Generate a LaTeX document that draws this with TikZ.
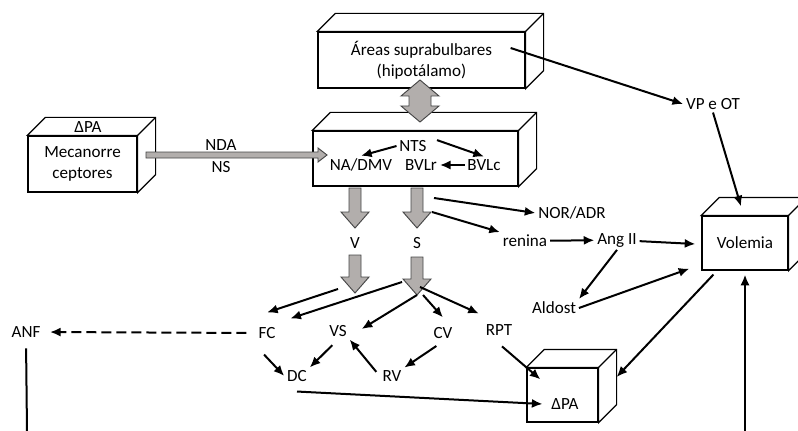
\documentclass[tikz,border=0pt]{standalone}
\usepackage{fontspec}
\setmainfont{Carlito}
\usetikzlibrary{arrows.meta, positioning, calc}
\definecolor{colSeta}{RGB}{178, 174, 172}
\definecolor{colBorda}{RGB}{70, 70, 70}

\begin{document}
\begin{tikzpicture}[x=0.75pt, y=-0.75pt,
    every node/.style={font=\fontsize{12.8}{15.5}\selectfont, inner sep=2pt},
    caixa/.style={draw, line width=0.9pt, fill=white, align=center},
    seta/.style={-{Latex[length=8pt,width=6.8pt]}, line width=1.5pt},
    setaGrossa/.style={fill=colSeta, draw=colBorda, line width=0.7pt, line join=miter}]
    \useasboundingbox (0,0) rectangle (798,431);

    % --- Caixas (face frontal) ---
    \node[caixa, minimum width=155.25pt, minimum height=42pt] (areas) at (421.5,60) {Áreas suprabulbares\\(hipotálamo)};
    \node[caixa, minimum width=153.75pt, minimum height=41.25pt] (nts) at (415.5,158.5) {};
    \node[caixa, minimum width=81.75pt, minimum height=42pt] (mec) at (82.5,164) {Mecanorre\\ceptores};
    \node[caixa, minimum width=64.5pt, minimum height=40.5pt] (vol) at (745,243) {Volemia};
    \node[caixa, minimum width=53.25pt, minimum height=40.5pt] (dpa) at (562.5,395) {};

    % Faces de cima e do lado (efeito 3D)
    \foreach \b in {areas, nts, mec, vol, dpa} {
        \draw[line width=0.9pt, fill=white] (\b.north west) -- ++(18,-18) -- ($(\b.north east)+(18,-18)$)
            -- ($(\b.south east)+(18,-18)$) -- (\b.south east) -- (\b.north east) -- cycle;
        \draw[line width=0.9pt] (\b.north east) -- ++(18,-18);
    }

    % --- Textos ---
    \node (dpa1) at (88,127) {ΔPA};
    \node (ntsl) at (413,146) {NTS};
    \node (nadmv) at (361,165) {NA/DMV};
    \node (bvlr) at (421,165) {BVLr};
    \node (bvlc) at (484,165) {BVLc};
    \node (nda) at (221,145) {NDA};
    \node (ns) at (221,167) {NS};
    \node (vpot) at (713,104) {VP e OT};
    \node (nor) at (572,213) {NOR/ADR};
    \node (renina) at (525,241) {renina};
    \node (ang) at (617,240) {Ang II};
    \node (aldost) at (554,308) {Aldost};
    \node (v) at (355,243) {V};
    \node (s) at (417,243) {S};
    \node (fc) at (267,333) {FC};
    \node (vs) at (338,331) {VS};
    \node (cv) at (443,333) {CV};
    \node (rpt) at (499,330) {RPT};
    \node (dc) at (297,376) {DC};
    \node (rv) at (392,376) {RV};
    \node (anf) at (26,332) {ANF};
    \node (dpal) at (565,404) {ΔPA};

    % --- Setas cinzentas ---
    \draw[setaGrossa] (146,152) -- (318,152) -- (318,148) -- (327,155) -- (318,162) -- (318,158) -- (146,158) -- cycle;
    \draw[setaGrossa] (420,80) -- (439,96) -- (431,96) -- (431,106) -- (439,106) -- (420,122)
        -- (401,106) -- (409,106) -- (409,96) -- (401,96) -- cycle;
    \foreach \x/\ya/\yb in {355/188/228, 417/188/228, 355/255/293, 417/257/295}
        \draw[setaGrossa] (\x-6,\ya) -- (\x-6,\yb-16) -- (\x-14,\yb-16) -- (\x,\yb)
            -- (\x+14,\yb-16) -- (\x+6,\yb-16) -- (\x+6,\ya) -- cycle;

    \coordinate (vtip) at (355,293);
    \coordinate (stip) at (417,295);
    \coordinate (norsai) at (434,198);
    \coordinate (rensai) at (432,212);
    \coordinate (volbase) at (745,431);
    \coordinate (anfbase) at (27,431);

    % --- Setas dentro do NTS ---
    \draw[seta] (ntsl.west) -- (nadmv.north);
    \draw[seta, shorten <=6pt] (ntsl.north east) -- (bvlc.north);
    \draw[seta] (bvlc.west) -- (bvlr.east);

    % --- Setas pretas ---
    \draw[seta] ($(areas.east)+(-15,-12)$) -- (vpot.west);
    \draw[seta] (vpot.south) -- ($(vol.north)+(-4,-9)$);
    \draw[seta] (norsai) -- (nor.west);
    \draw[seta] (rensai) -- (renina.north west);
    \draw[seta] (renina) -- (ang);
    \draw[seta] (ang) -- ($(vol.west)+(-6,1)$);
    \draw[seta] (ang.south) -- (aldost.north east);
    \draw[seta] (aldost.east) -- ($(vol.south west)+(-12,-2)$);
    \draw[seta] ($(vol.south west)+(12,4)$) -- ($(dpa.east)+(18,-18)$);
    \draw[seta] (volbase) -- ($(vol.south)+(0,4)$);
    \draw[line width=1.5pt, shorten <=6pt] (anf.south) -- (anfbase);
    \draw[seta, dash pattern=on 7.5pt off 3.75pt, shorten <=7pt, shorten >=5pt] (fc.west) -- (anf.east);

    \draw[seta] ($(vtip)+(-17,-4)$) -- ($(fc.north)+(0,-12)$);
    \draw[seta] ($(stip)+(-15,-13)$) -- ($(fc.north east)+(12,-6)$);
    \draw[seta] (stip) -- ($(vs.east)+(12,-2)$);
    \draw[seta] ($(stip)+(6,0)$) -- ($(cv.north)+(0,-7)$);
    \draw[seta] ($(stip)+(3,-8)$) -- ($(rpt.north west)+(-4,-8)$);

    \draw[seta] ($(fc.south)+(-3,13)$) -- (dc.west);
    \draw[seta, shorten <=6pt] (vs.south) -- (dc.north east);
    \draw[seta, shorten <=4pt] (rv.west) -- (vs.south east);
    \draw[seta, shorten <=6pt] (cv.south) -- (rv.north east);
    \draw[seta] ($(rpt.south)+(3,8)$) -- ($(dpa.north west)+(14,12)$);
    \draw[seta] ($(dc.south)+(0,7)$) -- ($(dpal.west)+(-6,0)$);
\end{tikzpicture}
\end{document}
